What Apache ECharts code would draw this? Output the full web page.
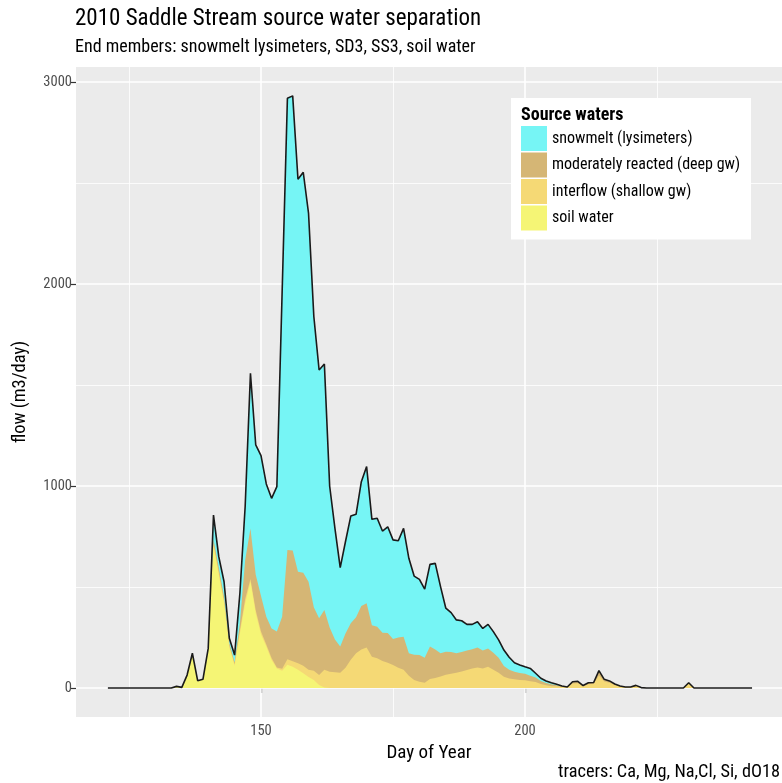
<!DOCTYPE html>
<html>
<head>
<meta charset="utf-8">
<script src="https://cdn.jsdelivr.net/npm/echarts@6.0.0/dist/echarts.min.js"></script>
<style>
  html, body { margin: 0; padding: 0; background: #fff; }
  #chart { width: 782px; height: 783px; }
</style>
</head>
<body>
<div id="chart"></div>
<script>
// Day of year, 2010 (one value per day)
const days = [
  121,122,123,124,125,126,127,128,129,130,131,132,133,134,135,136,137,138,139,140,
  141,142,143,144,145,146,147,148,149,150,151,152,153,154,155,156,157,158,159,160,
  161,162,163,164,165,166,167,168,169,170,171,172,173,174,175,176,177,178,179,180,
  181,182,183,184,185,186,187,188,189,190,191,192,193,194,195,196,197,198,199,200,
  201,202,203,204,205,206,207,208,209,210,211,212,213,214,215,216,217,218,219,220,
  221,222,223,224,225,226,227,228,229,230,231,232,233,234,235,236,237,238,239,240,
  241,242,243
];

// Daily flow (m3/day) attributed to each source water
const soilWater = [
  0,0,0,0,0,0,0,0,0,0,0,0,0,8,3,64,172,36,43,196,
  700,560,420,200,110,270,420,526,370,265,205,139,97,85,115,105,90,73,55,40,
  15,3,0,0,0,0,0,0,0,0,0,0,0,0,0,0,0,0,0,0,
  0,0,0,0,0,0,0,0,0,0,0,0,0,0,0,0,0,0,0,0,
  0,0,0,0,0,0,0,0,0,0,0,0,0,0,0,0,0,0,0,0,
  0,0,0,0,0,0,0,0,0,0,0,0,0,0,0,0,0,0,0,0,
  0,0,0
];
const interflow = [
  0,0,0,0,0,0,0,0,0,0,0,0,0,0,0,0,0,0,0,0,
  15,15,12,10,8,15,20,14,15,15,10,9,5,10,27,27,32,37,35,45,
  49,87,80,78,75,100,140,172,190,200,155,147,133,125,114,100,90,60,40,31,
  26,45,50,57,65,70,76,82,89,96,102,97,105,90,75,56,47,43,40,38,
  33,30,20,13,9,8,6,4,22,24,9,19,20,62,32,26,15,8,4,4,
  10,2,0,0,0,0,0,0,0,0,22,0,0,0,0,0,0,0,0,0,
  0,0,0
];
const deepGw = [
  0,0,0,0,0,0,0,0,0,0,0,0,0,0,0,0,0,0,0,0,
  20,20,18,12,10,35,194,250,175,175,138,147,178,258,541,548,454,461,436,315,
  281,296,220,162,130,170,180,178,216,220,155,156,141,147,129,150,164,112,125,132,
  124,160,140,115,115,108,96,96,96,96,99,88,91,85,75,53,43,37,34,32,
  27,22,15,12,9,5,3,1,9,9,3,7,7,24,11,9,5,2,1,1,
  3,0,0,0,0,0,0,0,0,0,4,0,0,0,0,0,0,0,0,0,
  0,0,0
];
const snowmelt = [
  0,0,0,0,0,0,0,0,0,0,0,0,0,0,0,0,0,0,0,0,
  121,55,76,24,35,149,266,768,643,695,657,644,717,1607,2236,2251,1942,1982,1824,1440,
  1229,1218,700,550,391,455,531,510,615,676,525,537,503,526,490,479,536,470,389,375,
  339,407,427,330,215,195,165,155,130,123,127,110,119,104,88,79,62,45,40,35,
  37,21,13,10,8,5,1,0,0,0,0,0,0,0,0,0,0,0,0,0,
  0,0,0,0,0,0,0,0,0,0,0,0,0,0,0,0,0,0,0,0,
  0,0,0
];

// Axis breaks
const xBreaks = [150, 200];
const xMinorBreaks = [125, 175, 225];
const yBreaks = [0, 1000, 2000, 3000];
const yMinorBreaks = [500, 1500, 2500];

const FONT = "'Roboto Condensed', 'Liberation Sans', sans-serif";

// Layers from the bottom of the stack upwards; colours as seen over the panel grey
const layers = [
  { name: 'soil water',                   values: soilWater, color: '#F5F575' },
  { name: 'interflow (shallow gw)',       values: interflow, color: '#F5D975' },
  { name: 'moderately reacted (deep gw)', values: deepGw,    color: '#D5B675' },
  { name: 'snowmelt (lysimeters)',        values: snowmelt,  color: '#76F5F5' }
];

// Upper edge of every layer = running sum of the layers beneath it
const running = days.map(() => 0);
const layerTops = layers.map(l => {
  l.values.forEach((v, i) => { running[i] += v; });
  return running.slice();
});
const totalFlow = layerTops[layerTops.length - 1];

const chart = echarts.init(document.getElementById('chart'), null, { renderer: 'canvas' });

// Each band is filled from its upper edge down to zero; upper bands sit behind lower ones
const areaSeries = layers.map((l, idx) => ({
  name: l.name,
  type: 'line',
  z: 6 - idx,
  data: days.map((d, i) => [d, layerTops[idx][i]]),
  showSymbol: false,
  symbol: 'none',
  itemStyle: { color: l.color },
  areaStyle: { color: l.color, opacity: 1, origin: 0 },
  lineStyle: { width: 0, opacity: 0 },
  emphasis: { disabled: true },
  animation: false
}));

// Outline of total flow, drawn over every band
const totalSeries = {
  name: 'total flow',
  type: 'line',
  z: 10,
  data: days.map((d, i) => [d, totalFlow[i]]),
  showSymbol: false,
  symbol: 'none',
  lineStyle: { color: '#1a1a1a', width: 1.6 },
  emphasis: { disabled: true },
  animation: false
};

const majorLine = { color: '#FFFFFF', width: 1.6, type: 'solid' };
const minorLine = { color: '#FFFFFF', width: 0.8, type: 'solid' };

// Panel grid: white major and minor lines under the bands
const gridSeries = {
  name: 'panel grid',
  type: 'line',
  z: 1,
  data: [[150, 0]],
  symbol: 'none',
  showSymbol: false,
  lineStyle: { opacity: 0 },
  silent: true,
  animation: false,
  markLine: {
    z: 1,
    silent: true,
    animation: false,
    symbol: ['none', 'none'],
    label: { show: false },
    emphasis: { disabled: true },
    data: [
      ...xMinorBreaks.map(v => ({ xAxis: v, lineStyle: minorLine })),
      ...yMinorBreaks.map(v => ({ yAxis: v, lineStyle: minorLine })),
      ...xBreaks.map(v => ({ xAxis: v, lineStyle: majorLine })),
      ...yBreaks.map(v => ({ yAxis: v, lineStyle: majorLine }))
    ]
  }
};

chart.setOption({
  animation: false,
  backgroundColor: '#FFFFFF',
  textStyle: { fontFamily: FONT },
  title: [
    {
      text: '2010 Saddle Stream source water separation',
      subtext: 'End members: snowmelt lysimeters, SD3, SS3, soil water',
      left: 75, top: 8, padding: 0, itemGap: 7,
      textStyle: { fontFamily: FONT, fontSize: 23, fontWeight: 'normal', color: '#000' },
      subtextStyle: { fontFamily: FONT, fontSize: 18, color: '#000' }
    },
    {
      text: 'tracers: Ca, Mg, Na,Cl, Si, dO18',
      right: 2, top: 763, padding: 0,
      textStyle: { fontFamily: FONT, fontSize: 18.3, fontWeight: 'normal', color: '#000' }
    },
    {
      text: 'Source waters',
      left: 521, top: 106, padding: 0,
      textStyle: { fontFamily: FONT, fontSize: 18, fontWeight: 'bold', color: '#000' }
    }
  ],
  legend: {
    orient: 'vertical',
    left: 511, top: 98,
    padding: [28, 11, 9, 10],
    backgroundColor: '#FFFFFF',
    icon: 'rect',
    itemWidth: 26, itemHeight: 25, itemGap: 1.5,
    selectedMode: false,
    textStyle: { fontFamily: FONT, fontSize: 16, color: '#000' },
    data: layers.slice().reverse().map(l => ({ name: l.name, itemStyle: { color: l.color }, icon: 'rect' }))
  },
  grid: {
    left: 76, right: 0, top: 67, bottom: 66,
    show: true, backgroundColor: '#EBEBEB', borderWidth: 0,
    containLabel: false,
    outerBoundsMode: 'none'
  },
  xAxis: {
    type: 'value',
    min: 114.96, max: 248.67,
    name: 'Day of Year',
    nameLocation: 'middle', nameGap: 24,
    nameTextStyle: { fontFamily: FONT, fontSize: 19, color: '#000' },
    axisLine: { show: false },
    axisTick: { show: true, customValues: xBreaks, length: 5, lineStyle: { color: '#333333', width: 1.2 } },
    axisLabel: { customValues: xBreaks, color: '#4D4D4D', fontSize: 14.5, fontFamily: FONT, margin: 7, formatter: v => String(v) },
    splitLine: { show: false }
  },
  yAxis: {
    type: 'value',
    min: -143.6, max: 3074,
    name: 'flow (m3/day)',
    nameLocation: 'middle', nameGap: 46,
    nameTextStyle: { fontFamily: FONT, fontSize: 18.5, color: '#000' },
    axisLine: { show: false },
    axisTick: { show: true, customValues: yBreaks, length: 5, lineStyle: { color: '#333333', width: 1.2 } },
    axisLabel: { customValues: yBreaks, color: '#4D4D4D', fontSize: 14.5, fontFamily: FONT, margin: 4, formatter: v => String(v) },
    splitLine: { show: false }
  },
  series: [gridSeries, ...areaSeries, totalSeries]
});
</script>
</body>
</html>
